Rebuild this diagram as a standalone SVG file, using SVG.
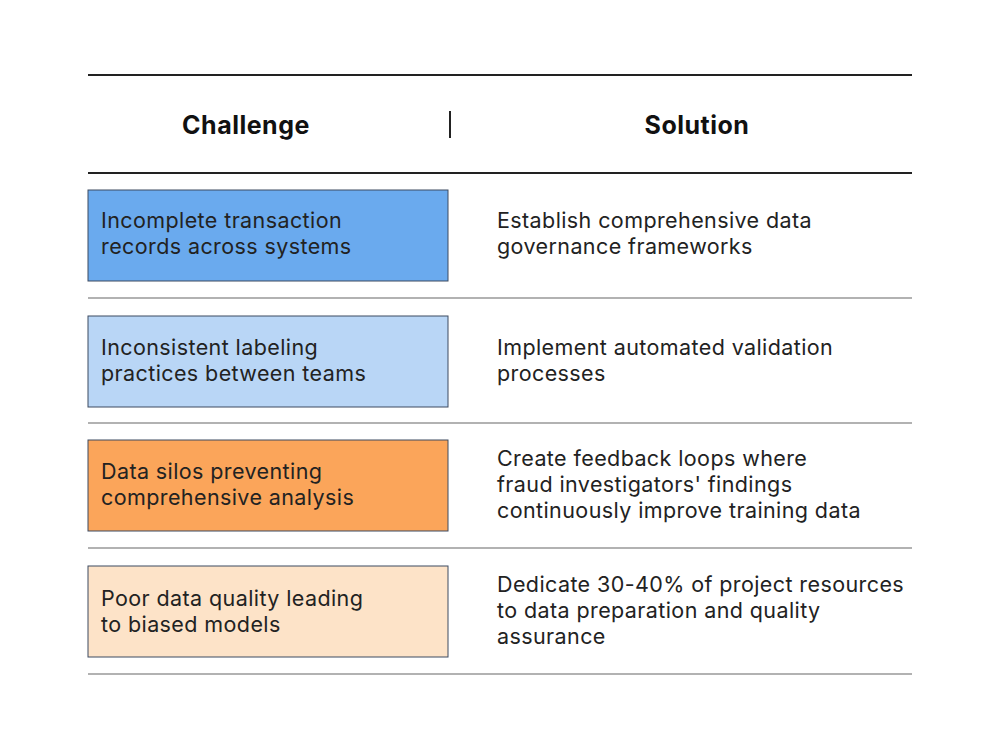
<svg xmlns="http://www.w3.org/2000/svg" width="1000" height="750" viewBox="0 0 1000 750">
<style>
.t{font-family:Inter,"Liberation Sans",sans-serif;font-size:21.5px;letter-spacing:0.4px;fill:#222}
.h{font-family:Inter,"Liberation Sans",sans-serif;font-size:25px;font-weight:bold;letter-spacing:0.5px;fill:#111;text-anchor:middle}
.b{stroke:#3c4a60;stroke-width:1}
.sep{stroke:#666;stroke-width:1.2}
</style>
<rect width="1000" height="750" fill="#fff"/>
<g id="header">
<line x1="88" y1="75" x2="912" y2="75" stroke="#222" stroke-width="2"/>
<line x1="450" y1="111" x2="450" y2="138" stroke="#222" stroke-width="2"/>
<text class="h" x="246" y="134">Challenge</text>
<text class="h" x="697" y="134">Solution</text>
<line x1="88" y1="173" x2="912" y2="173" stroke="#222" stroke-width="2"/>
</g>
<g id="separators">
<line class="sep" x1="88" y1="298" x2="912" y2="298"/>
<line class="sep" x1="88" y1="423" x2="912" y2="423"/>
<line class="sep" x1="88" y1="548" x2="912" y2="548"/>
<line class="sep" x1="88" y1="674" x2="912" y2="674"/>
</g>
<g id="row1">
<rect class="b" x="88" y="190" width="360" height="91" fill="#6aaaee"/>
<text class="t" x="101" y="228">Incomplete transaction</text>
<text class="t" x="101" y="254">records across systems</text>
<text class="t" x="497" y="228">Establish comprehensive data</text>
<text class="t" x="497" y="254">governance frameworks</text>
</g>
<g id="row2">
<rect class="b" x="88" y="316" width="360" height="91" fill="#b9d6f6"/>
<text class="t" x="101" y="355">Inconsistent labeling</text>
<text class="t" x="101" y="381">practices between teams</text>
<text class="t" x="497" y="355">Implement automated validation</text>
<text class="t" x="497" y="381">processes</text>
</g>
<g id="row3">
<rect class="b" x="88" y="440" width="360" height="91" fill="#fba55a"/>
<text class="t" x="101" y="479">Data silos preventing</text>
<text class="t" x="101" y="505">comprehensive analysis</text>
<text class="t" x="497" y="466">Create feedback loops where</text>
<text class="t" x="497" y="492">fraud investigators' findings</text>
<text class="t" x="497" y="518">continuously improve training data</text>
</g>
<g id="row4">
<rect class="b" x="88" y="566" width="360" height="91" fill="#fde3c8"/>
<text class="t" x="101" y="606">Poor data quality leading</text>
<text class="t" x="101" y="632">to biased models</text>
<text class="t" x="497" y="592">Dedicate 30-40% of project resources</text>
<text class="t" x="497" y="618">to data preparation and quality</text>
<text class="t" x="497" y="644">assurance</text>
</g>
</svg>
